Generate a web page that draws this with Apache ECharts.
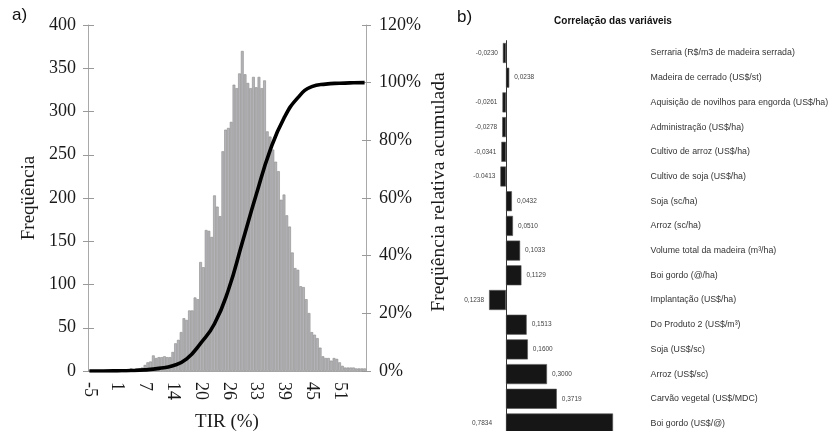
<!DOCTYPE html>
<html><head><meta charset="utf-8">
<script src="https://cdn.jsdelivr.net/npm/echarts@6/dist/echarts.min.js"></script>
<style>html,body{margin:0;padding:0;background:#fff}#c{width:828px;height:431px}</style>
</head><body><div id="c"></div>
<script>
// ---- Panel a) histogram of TIR (%) ----
const tickLabels = ['-5','1','7','14','20','26','33','39','45','51'];
const freq = [
  0,0,0,0,1,0,1,1,0,1,
  1,2,1,2,2,3,2,3,3,4,
  7,10,11,18,15,16,16,17,16,16,
  22,32,36,45,61,59,70,70,85,83,
  126,120,163,162,155,203,190,179,254,279,
  281,288,331,327,344,370,343,333,327,340,
  328,340,327,336,277,271,256,242,231,198,
  204,180,167,137,119,117,98,97,83,67,
  45,42,38,27,17,15,15,12,15,14,
  10,6,4,4,4,4,3,3,3,3
];
// cumulative relative frequency (%) read at selected bins
const cumBins = [0,5,10,15,20,25,30,35,40,45,50,55,60,65,70,75,80,85,90,95,99];
const cumPct  = [0,0,0.05,0.15,0.4,0.9,1.8,4.2,9.6,16.4,28.1,44.6,61.1,76.5,87.7,94.8,98.6,99.5,99.8,99.95,100];

// ---- Panel b) correlations ----
const corrNames = [
  'Serraria (R$/m3 de madeira serrada)',
  'Madeira de cerrado (US$/st)',
  'Aquisição de novilhos para engorda (US$/ha)',
  'Administração (US$/ha)',
  'Cultivo de arroz (US$/ha)',
  'Cultivo de soja (US$/ha)',
  'Soja (sc/ha)',
  'Arroz (sc/ha)',
  'Volume total da madeira (m³/ha)',
  'Boi gordo (@/ha)',
  'Implantação (US$/ha)',
  'Do Produto 2 (US$/m³)',
  'Soja (US$/sc)',
  'Arroz (US$/sc)',
  'Carvão vegetal (US$/MDC)',
  'Boi gordo (US$/@)'
];
const corrValues = [-0.0230,0.0238,-0.0261,-0.0278,-0.0341,-0.0413,0.0432,0.0510,0.1033,0.1129,-0.1238,0.1513,0.1600,0.3000,0.3719,0.7834];
const corrLabels = ['-0,0230','0,0238','-0,0261','-0,0278','-0,0341','-0.0413','0,0432','0,0510','0,1033','0,1129','0,1238','0,1513','0,1600','0,3000','0,3719','0,7834'];

const chart = echarts.init(document.getElementById('c'), null, {renderer:'canvas'});
const bins = freq.map((_, i) => i);
const serif = 'Liberation Serif';
const sans = 'Liberation Sans';
const axisGrey = '#a9a9a9';
const tickGrey = '#9a9a9a';
const serifLbl = {fontFamily: serif, fontSize: 18, color: '#1a1a1a'};
const serifName = {fontFamily: serif, fontSize: 19, color: '#1a1a1a'};

const option = {
  animation: false,
  backgroundColor: '#fff',
  grid: [
    {left: 88, right: 462, top: 25, bottom: 60, outerBoundsMode: 'none', containLabel: false},
    {left: 471.85, width: 170.75, top: 40.65, height: 395.2, outerBoundsMode: 'none', containLabel: false}
  ],
  graphic: [
    {type: 'text', x: 12, y: 7, style: {text: 'a)', font: '17px "Liberation Sans"', fill: '#111'}},
    {type: 'text', x: 457, y: 9, style: {text: 'b)', font: '17px "Liberation Sans"', fill: '#111'}},
    {type: 'text', x: 613, y: 16, style: {text: 'Correlação das variáveis', font: 'bold 10px "Liberation Sans"', fill: '#111', textAlign: 'center'}}
  ],
  xAxis: [
    {
      type: 'category', gridIndex: 0, data: bins, boundaryGap: true, position: 'bottom',
      axisLine: {lineStyle: {color: axisGrey}},
      axisTick: {interval: 0, length: 5, lineStyle: {color: '#707070'}},
      axisLabel: Object.assign({interval: 9, rotate: -90, margin: 11,
        formatter: (v, i) => tickLabels[Math.round(i / 10)] || ''}, serifLbl),
      name: 'TIR (%)', nameLocation: 'middle', nameGap: 42,
      nameTextStyle: serifName
    },
    {
      type: 'category', gridIndex: 0, data: bins, boundaryGap: true, position: 'bottom',
      axisLine: {show: false},
      axisTick: {inside: true, interval: 0, length: 5, lineStyle: {color: '#707070'}},
      axisLabel: {show: false}
    },
    {type: 'value', gridIndex: 1, min: -0.25, max: 1.0, show: false}
  ],
  yAxis: [
    {
      type: 'value', gridIndex: 0, min: 0, max: 400, interval: 50, position: 'left',
      axisLine: {show: true, lineStyle: {color: axisGrey}},
      axisTick: {show: true, length: 5, lineStyle: {color: tickGrey}},
      splitLine: {show: false},
      axisLabel: Object.assign({margin: 12}, serifLbl),
      name: 'Freqüência', nameLocation: 'middle', nameGap: 49, nameRotate: 90,
      nameTextStyle: serifName
    },
    {
      type: 'value', gridIndex: 0, min: 0, max: 120, interval: 20, position: 'right',
      axisLine: {show: true, lineStyle: {color: axisGrey}},
      axisTick: {show: true, length: 5, lineStyle: {color: tickGrey}},
      splitLine: {show: false},
      axisLabel: Object.assign({margin: 13, formatter: '{value}%'}, serifLbl),
      name: 'Freqüência relativa acumulada', nameLocation: 'middle', nameGap: 63, nameRotate: 90,
      nameTextStyle: Object.assign({}, serifName, {fontSize: 19.5, padding: [0, 0, 0, 12]})
    },
    {
      type: 'value', gridIndex: 0, min: 0, max: 400, interval: 50, position: 'left',
      axisLine: {show: false}, splitLine: {show: false}, axisLabel: {show: false},
      axisTick: {show: true, inside: true, length: 6, lineStyle: {color: tickGrey}}
    },
    {
      type: 'value', gridIndex: 0, min: 0, max: 120, interval: 20, position: 'right',
      axisLine: {show: false}, splitLine: {show: false}, axisLabel: {show: false},
      axisTick: {show: true, inside: true, length: 4, lineStyle: {color: tickGrey}}
    },
    {
      type: 'category', gridIndex: 1, data: corrNames, inverse: true, position: 'right',
      axisLine: {show: true, onZero: true, lineStyle: {color: '#333', width: 1}},
      axisTick: {show: false},
      axisLabel: {margin: 8, align: 'left', fontFamily: sans, fontSize: 8.8, color: '#333', interval: 0}
    }
  ],
  series: [
    {
      type: 'bar', xAxisIndex: 0, yAxisIndex: 0, data: freq,
      barCategoryGap: '0%',
      itemStyle: {color: '#b4b4b8', borderColor: '#8c8c8c', borderWidth: 0.6},
      z: 2
    },
    {
      type: 'line', xAxisIndex: 0, yAxisIndex: 1,
      data: cumBins.map((b, k) => [b, cumPct[k]]),
      smooth: 0.5, symbol: 'none',
      lineStyle: {color: '#000', width: 3.6},
      z: 5
    },
    {
      type: 'bar', xAxisIndex: 2, yAxisIndex: 4,
      barWidth: 20,
      data: corrValues.map((v, i) => {
        const leftSide = v < 0 || v > 0.5;
        return {
          value: v,
          label: {position: leftSide ? 'left' : 'right', distance: (v > 0.5) ? 14 : 5}
        };
      }),
      itemStyle: {color: '#161616', borderColor: '#555', borderWidth: 0.6},
      label: {
        show: true, fontFamily: sans, fontSize: 6.5, color: '#444',
        formatter: p => corrLabels[p.dataIndex]
      }
    }
  ]
};
chart.setOption(option);
</script>
</body></html>
